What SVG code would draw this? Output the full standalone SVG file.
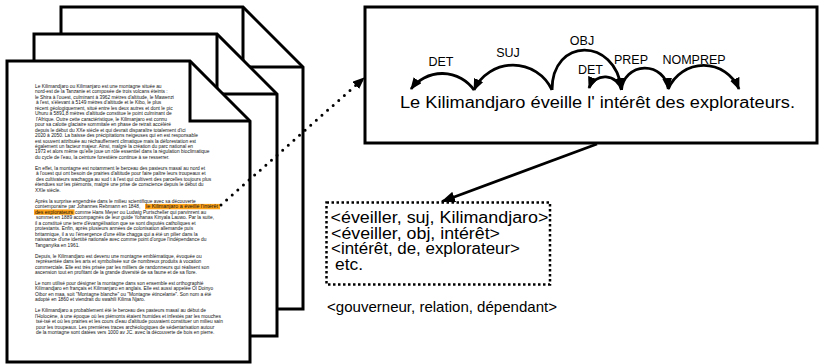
<svg xmlns="http://www.w3.org/2000/svg" width="819" height="364" viewBox="0 0 819 364">
<style>
.page{fill:#fff;stroke:#000;stroke-width:3;stroke-linejoin:miter}
.fold{fill:none;stroke:#000;stroke-width:3}
.doc{font-family:"Liberation Sans",Arial,sans-serif;font-size:4.85px;fill:#111}
.sent{font-family:"Liberation Sans",Arial,sans-serif;font-size:16px;fill:#000}
.lab{font-family:"Liberation Sans",Arial,sans-serif;font-size:12.5px;fill:#000;text-anchor:middle}
.tri{font-family:"Liberation Sans",Arial,sans-serif;font-size:16px;fill:#000}
.cap{font-family:"Liberation Sans",Arial,sans-serif;font-size:14.5px;fill:#000}
.arc{fill:none;stroke:#000;stroke-width:2.8;marker-end:url(#ah)}
.hl{fill:#ffa31a}
</style>
<defs>
<marker id="ah" viewBox="0 0 12 10" refX="11" refY="5" markerWidth="12" markerHeight="10" markerUnits="userSpaceOnUse" orient="auto">
<path d="M0,0 L12,5 L0,10 Z" fill="#000"/>
</marker>
<marker id="ah2" viewBox="0 0 14 11" refX="13" refY="5.5" markerWidth="14" markerHeight="11" markerUnits="userSpaceOnUse" orient="auto">
<path d="M0,0 L14,5.5 L0,11 Z" fill="#000"/>
</marker>
</defs>

<g id="page-back">
<path class="page" d="M61,7 H243 L303,67 V309 H61 Z"/>
<path class="fold" d="M243,7 V67 H303"/>
</g>
<g id="page-middle">
<path class="page" d="M34,34 H217 L277,94 V336 H34 Z"/>
<path class="fold" d="M217,34 V94 H277"/>
</g>
<g id="page-front">
<path class="page" d="M7,61 H190 L250,121 V362 H7 Z"/>
<path class="fold" d="M190,61 V121 H250"/>
<rect class="hl" x="145" y="203.9" width="75" height="5.4"/>
<rect class="hl" x="34" y="209.4" width="40.5" height="5.4"/>
<text class="doc">
<tspan x="35" y="87.7">Le Kilimandjaro ou Kilimanjaro est une montagne située au</tspan>
<tspan x="35" y="93.18">nord-est de la Tanzanie et composée de trois volcans éteints :</tspan>
<tspan x="35" y="98.66">le Shira à l'ouest, culminant à 3962 mètres d'altitude, le Mawenzi</tspan>
<tspan x="36" y="104.14">à l'est, s'élevant à 5149 mètres d'altitude et le Kibo, le plus</tspan>
<tspan x="35" y="109.62">récent géologiquement, situé entre les deux autres et dont le pic</tspan>
<tspan x="35" y="115.1">Uhuru à 5891,8 mètres d'altitude constitue le point culminant de</tspan>
<tspan x="36" y="120.58">l'Afrique. Outre cette caractéristique, le Kilimanjaro est connu</tspan>
<tspan x="35" y="126.06">pour sa calotte glaciaire sommitale en phase de retrait accéléré</tspan>
<tspan x="35" y="131.54">depuis le début du XXe siècle et qui devrait disparaître totalement d'ici</tspan>
<tspan x="35" y="137.02">2020 à 2050. La baisse des précipitations neigeuses qui en est responsable</tspan>
<tspan x="35" y="142.5">est souvent attribuée au réchauffement climatique mais la déforestation est</tspan>
<tspan x="35" y="147.98">également un facteur majeur. Ainsi, malgré la création du parc national en</tspan>
<tspan x="35" y="153.46">1973 et alors même qu'elle joue un rôle essentiel dans la régulation bioclimatique</tspan>
<tspan x="35" y="158.94">du cycle de l'eau, la ceinture forestière continue à se resserrer.</tspan>
<tspan x="35" y="169.9">En effet, la montagne est notamment le berceau des pasteurs masaï au nord et</tspan>
<tspan x="36" y="175.38">à l'ouest qui ont besoin de prairies d'altitude pour faire paître leurs troupeaux et</tspan>
<tspan x="36" y="180.86">des cultivateurs wachagga au sud t à l'est qui cultivent des parcelles toujours plus</tspan>
<tspan x="35" y="186.34">étendues sur les piémonts, malgré une prise de conscience depuis le début du</tspan>
<tspan x="35" y="191.82">XXIe siècle.</tspan>
<tspan x="35" y="202.78">Après la surprise engendrée dans le milieu scientifique avec sa découverte</tspan>
<tspan x="35" y="208.26">contemporaine par Johannes Rebmann en 1848,</tspan>
<tspan x="146" y="208.26" textLength="72" lengthAdjust="spacingAndGlyphs">le Kilimanjaro a éveillé l'intérêt</tspan>
<tspan x="35" y="213.74" textLength="38" lengthAdjust="spacingAndGlyphs">des explorateurs</tspan>
<tspan x="75" y="213.74">comme Hans Meyer ou Ludwig Purtscheller qui parvinrent au</tspan>
<tspan x="36" y="219.22">sommet en 1889 accompagnés de leur guide Yohanas Kinyala Lauwo. Par la suite,</tspan>
<tspan x="35" y="224.7">il a constitué une terre d'évangélisation que se sont disputés catholiques et</tspan>
<tspan x="35" y="230.18">protestants. Enfin, après plusieurs années de colonisation allemande puis</tspan>
<tspan x="35" y="235.66">britannique, il a vu l'émergence d'une élite chagga qui a été un pilier dans la</tspan>
<tspan x="35" y="241.14">naissance d'une identité nationale avec comme point d'orgue l'indépendance du</tspan>
<tspan x="35" y="246.62">Tanganyika en 1961.</tspan>
<tspan x="35" y="257.58">Depuis, le Kilimandjaro est devenu une montagne emblématique, évoquée ou</tspan>
<tspan x="36" y="263.06">représentée dans les arts et symbolisée sur de nombreux produits à vocation</tspan>
<tspan x="35" y="268.54">commerciale. Elle est très prisée par les milliers de randonneurs qui réalisent son</tspan>
<tspan x="35" y="274.02">ascension tout en profitant de la grande diversité de sa faune et de sa flore.</tspan>
<tspan x="35" y="284.98">Le nom utilisé pour désigner la montagne dans son ensemble est orthographié</tspan>
<tspan x="35" y="290.46">Kilimandjaro en français et Kilimanjaro en anglais. Elle est aussi appelée Ol Doinyo</tspan>
<tspan x="35" y="295.94">Oibor en maa, soit "Montagne blanche" ou "Montagne étincelante". Son nom a été</tspan>
<tspan x="35" y="301.42">adopté en 1860 et viendrait du swahili Kilima Njaro.</tspan>
<tspan x="35" y="312.38">Le Kilimandjaro a probablement été le berceau des pasteurs masaï au début de</tspan>
<tspan x="35" y="317.86">l'Holocène, à une époque où les piémonts étaient humides et infestés par les mouches</tspan>
<tspan x="36" y="323.34">tsé-tsé et où les prairies et les cours d'eau d'altitude pouvaient constituer un milieu sain</tspan>
<tspan x="36" y="328.82">pour les troupeaux. Les premières traces archéologiques de sédentarisation autour</tspan>
<tspan x="36" y="334.3">de la montagne sont datées vers 1000 av JC.  avec la découverte de bois en pierre.</tspan>
</text>
</g>

<g id="parse-box">
<rect x="365" y="7" width="452" height="136" fill="#fff" stroke="#000" stroke-width="3"/>
<text class="sent" x="400" y="107.5" textLength="395" lengthAdjust="spacingAndGlyphs">Le Kilimandjaro éveille l' intérêt des explorateurs.</text>
<text class="lab" x="441" y="66">DET</text>
<text class="lab" x="508" y="57.3">SUJ</text>
<text class="lab" x="582" y="45">OBJ</text>
<text class="lab" x="590.5" y="74">DET</text>
<text class="lab" x="631" y="64">PREP</text>
<text class="lab" x="694" y="64">NOMPREP</text>
</g>

<g id="triples-box">
<rect x="326.5" y="202.5" width="223.5" height="82" fill="none" stroke="#000" stroke-width="2.5" stroke-dasharray="2.5 2.5"/>
<text class="tri" x="330.5" y="223" textLength="218" lengthAdjust="spacingAndGlyphs">&lt;éveiller, suj, Kilimandjaro&gt;</text>
<text class="tri" x="331" y="238.7" textLength="169" lengthAdjust="spacingAndGlyphs">&lt;éveiller, obj, intérêt&gt;</text>
<text class="tri" x="331" y="254.4" textLength="189" lengthAdjust="spacingAndGlyphs">&lt;intérêt, de, explorateur&gt;</text>
<text class="tri" x="335" y="270.1" textLength="28" lengthAdjust="spacingAndGlyphs">etc.</text>
</g>

<g id="caption">
<text class="cap" x="327" y="312.3" textLength="230" lengthAdjust="spacingAndGlyphs">&lt;gouverneur, relation, dépendant&gt;</text>
</g>

<g id="connectors">
<path class="arc" d="M474,90 A39,39 0 0 0 411,89"/>
<path class="arc" d="M552,90 A43,43 0 0 0 474,90"/>
<path class="arc" d="M552,90 C552,37 615,37 621.5,89"/>
<path class="arc" d="M621.5,90 A17,17 0 0 0 589,88"/>
<path class="arc" d="M621.5,90 A23.5,23.5 0 0 1 668.3,89"/>
<path class="arc" d="M668.3,89 A38.3,38.3 0 0 1 739,89"/>
<path d="M221,205 L364,78" fill="none" stroke="#000" stroke-width="3" stroke-linecap="round" stroke-dasharray="0 7.5" marker-end="url(#ah)"/>
<path d="M597,144 L442,201.5" fill="none" stroke="#000" stroke-width="2.8" marker-end="url(#ah2)"/>
</g>
</svg>
